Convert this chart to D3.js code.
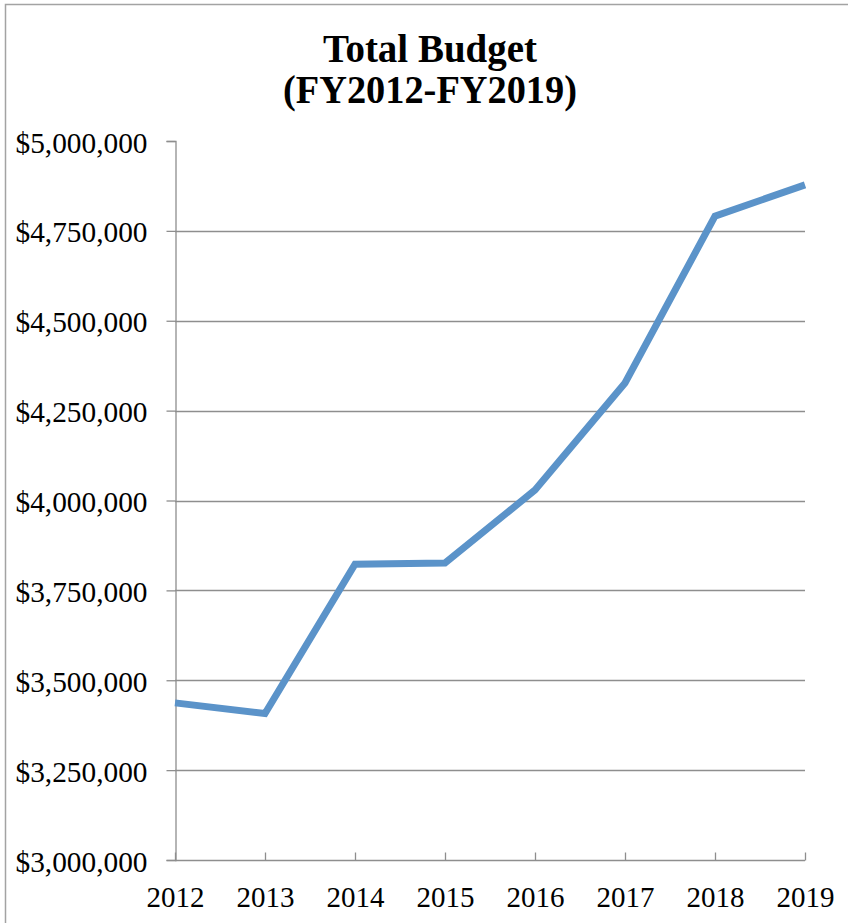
<!DOCTYPE html>
<html>
<head>
<meta charset="utf-8">
<script src="https://cdn.jsdelivr.net/npm/d3@7"></script>
<style>
  html, body { margin: 0; padding: 0; background: #fff; }
  svg { display: block; }
  text { font-family: "Liberation Serif", "DejaVu Serif", serif; fill: #000; }
</style>
</head>
<body>
<svg id="chart" width="848" height="923"></svg>
<script>
// Fiscal years and total budget (USD)
const years = ["2012", "2013", "2014", "2015", "2016", "2017", "2018", "2019"];
const budget = [3437000, 3407500, 3823000, 3826000, 4029000, 4327000, 4791000, 4878000];
const yTicks = [3000000, 3250000, 3500000, 3750000, 4000000, 4250000, 4500000, 4750000, 5000000];
const titleLines = ["Total Budget", "(FY2012-FY2019)"];

const svg = d3.select("#chart");
const W = 848, H = 923;
const plot = { left: 175, right: 805, top: 141, bottom: 860 };
const gridColor = "#8e8e8e";

// outer frame
svg.append("path")
  .attr("d", `M5.5,${H} L5.5,4.5 L${W},4.5`)
  .attr("fill", "none").attr("stroke", "#a3a3a3").attr("stroke-width", 1.5);

// title
const title = svg.append("g");
title.append("text").text(titleLines[0])
  .attr("x", 430).attr("y", 62).attr("text-anchor", "middle")
  .attr("font-size", 39).attr("font-weight", "bold")
  .attr("textLength", 214).attr("lengthAdjust", "spacingAndGlyphs");
title.append("text").text(titleLines[1])
  .attr("x", 430).attr("y", 103).attr("text-anchor", "middle")
  .attr("font-size", 39).attr("font-weight", "bold")
  .attr("textLength", 294).attr("lengthAdjust", "spacingAndGlyphs");

const x = d3.scalePoint().domain(years).range([plot.left, plot.right]);
const y = d3.scaleLinear().domain([3000000, 5000000]).range([plot.bottom, plot.top]);

// horizontal gridlines (none at the top edge)
svg.append("g").selectAll("line")
  .data(yTicks.filter(d => d > 3000000 && d < 5000000))
  .join("line")
  .attr("x1", plot.left).attr("x2", plot.right)
  .attr("y1", d => Math.round(y(d)) + 0.5).attr("y2", d => Math.round(y(d)) + 0.5)
  .attr("stroke", gridColor).attr("stroke-width", 1.3);

// y axis
const fmt = d => "$" + d3.format(",")(d);
const yAxis = svg.append("g")
  .attr("transform", `translate(${plot.left + 0.5},0)`)
  .call(d3.axisLeft(y).tickValues(yTicks).tickFormat(fmt).tickSize(9).tickPadding(19));
yAxis.select(".domain").attr("stroke", gridColor).attr("stroke-width", 1.3);
yAxis.selectAll(".tick line").attr("stroke", gridColor).attr("stroke-width", 1.3);
yAxis.selectAll(".tick text")
  .attr("font-size", 29).attr("dy", "0.38em")
  .attr("font-family", "Liberation Serif, serif")
  .attr("textLength", 132).attr("lengthAdjust", "spacingAndGlyphs");

// x axis with inside ticks
const xAxis = svg.append("g")
  .attr("transform", `translate(0,${plot.bottom + 0.5})`)
  .call(d3.axisBottom(x).tickSizeInner(-8).tickSizeOuter(0).tickPadding(26));
xAxis.select(".domain").attr("stroke", gridColor).attr("stroke-width", 1.3)
  .attr("d", `M${plot.left},0H${plot.right}`);
xAxis.selectAll(".tick line").attr("stroke", gridColor).attr("stroke-width", 1.3);
xAxis.selectAll(".tick text")
  .attr("font-size", 29).attr("dy", "0.71em")
  .attr("font-family", "Liberation Serif, serif")
  .attr("textLength", 58).attr("lengthAdjust", "spacingAndGlyphs");

// budget line
const line = d3.line().x((d, i) => x(years[i])).y(d => y(d));
svg.append("path")
  .datum(budget)
  .attr("d", line)
  .attr("fill", "none")
  .attr("stroke", "#5b93c9")
  .attr("stroke-width", 7)
  .attr("stroke-linejoin", "miter");
</script>
</body>
</html>
